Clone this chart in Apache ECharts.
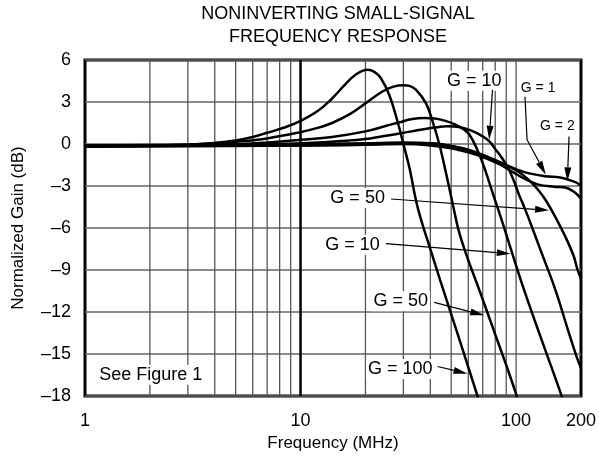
<!DOCTYPE html>
<html><head><meta charset="utf-8">
<script src="https://cdn.jsdelivr.net/npm/echarts@6/dist/echarts.min.js"></script>
<style>html,body{margin:0;padding:0;background:#fff}#c{width:599px;height:462px}</style>
</head><body><div id="c"></div>
<script>
const FONT = '"Liberation Sans", Arial, Helvetica, sans-serif';

// Axis ticks
const xLabels = [1, 10, 100, 200];
const vGrid = [2, 3, 4, 5, 6, 7, 8, 9, 10, 20, 30, 40, 50, 60, 70, 80, 90, 100];
const yMin = -18, yMax = 6, yStep = 3;

// Curves: [frequency MHz, normalized gain dB]
const curveG100 = [[1,-0.15],[2,-0.12],[3,-0.05],[4,0.08],[5,0.25],[6,0.5],[7,0.8],[8.5,1.2],[10,1.65],[12,2.35],[14,3.25],[16,4.2],[18,4.95],[20.5,5.3],[22,5.15],[23.6,4.7],[25.8,3.5],[28.3,1.5],[30,0],[32,-1.7],[34.9,-4.5],[39.6,-7.3],[48.9,-11.7],[58.5,-15.4],[66.2,-18],[70,-19.2]];
const curveG50 = [[1,-0.15],[2,-0.1],[3,-0.05],[4,0.05],[5,0.15],[7,0.4],[10,0.85],[12,1.15],[14,1.5],[17,2.15],[20,2.9],[24,3.75],[27,4.1],[30,4.2],[32,4.15],[34.2,3.9],[38.2,2.9],[41,1.6],[44,0],[47.5,-2.2],[51.5,-4.7],[54.4,-6.3],[60,-8.3],[67.4,-10.4],[80,-13.6],[90,-15.8],[99.7,-17.8],[104,-18.8]];
const curveG10 = [[1,-0.15],[3,-0.1],[5,-0.02],[7,0.1],[10,0.3],[14,0.5],[20,0.9],[25,1.3],[28.7,1.55],[33,1.78],[37.4,1.86],[42,1.82],[47,1.65],[52,1.4],[57,1.05],[60.6,0.7],[66,-0.4],[72,-1.9],[79,-3.8],[84.8,-5.2],[95,-7.6],[108.8,-10.4],[130,-13.8],[161,-17.8],[170,-19]];
const curveG10b = [[1,-0.15],[5,-0.1],[10,0.05],[15,0.2],[20,0.35],[28.7,0.75],[34,0.95],[39.6,1.12],[44,1.22],[48,1.26],[55,1.2],[62,0.95],[70,0.55],[75,0.2],[80,-0.35],[86,-1.0],[92.5,-1.8],[98,-2.7],[103,-3.6],[109,-4.5],[115,-5.4],[130,-7.6],[152,-10.4],[175,-13.4],[191,-15.2],[200,-16]];
const curveG50b = [[1,-0.15],[10,-0.1],[20,-0.05],[30,0.05],[40,0.05],[50,-0.15],[60,-0.45],[70,-0.8],[80,-1.15],[90,-1.5],[103,-2.0],[115,-2.6],[127,-3.3],[137,-4.0],[152,-5.2],[169,-6.6],[185,-8.0],[192,-8.9],[200,-9.6]];
const curveG1 = [[1,-0.1],[10,0],[20,0.05],[30,0.1],[40,0.05],[50,-0.15],[60,-0.4],[72,-0.85],[85,-1.35],[100,-1.8],[115,-2.1],[137,-2.3],[160,-2.4],[175,-2.55],[190,-2.75],[200,-3.0]];
const curveG2 = [[1,-0.2],[10,-0.1],[20,-0.05],[30,0],[40,-0.1],[50,-0.3],[60,-0.6],[72,-1.0],[85,-1.5],[94,-1.9],[110,-2.5],[127,-2.9],[150,-3.05],[169,-3.1],[185,-3.4],[200,-3.9]];

// Annotations (data coordinates)
const annText = ['G = 10','G = 1','G = 2','G = 50','G = 10','G = 50','G = 100','See Figure 1'];
const annPos = [[63.9,4.52],[126.5,4.02],[155.4,1.26],[18.4,-3.86],[17.4,-7.19],[29.2,-11.24],[29.0,-16.07],[2.02,-16.48]];
const annSize = [18,14,14,18,18,18,18,18];
const arrowPaths = [
  [[77.7,3.88],[75.0,0.31]],
  [[110,3.38],[112.4,0.31],[137.3,-2.19]],
  [[176,0.54],[172.9,-2.67]],
  [[26.3,-3.93],[142.2,-4.74]],
  [[24.9,-7.12],[94.5,-7.84]],
  [[41.7,-11.31],[71.1,-12.24]],
  [[43.2,-15.89],[59.5,-16.41]]
];

const curves = [curveG100, curveG50, curveG10, curveG10b, curveG50b, curveG1, curveG2];

const chart = echarts.init(document.getElementById('c'), null, {renderer: 'canvas'});

const series = [];
series.push({
  type: 'custom', z: 1, silent: true, clip: false,
  data: vGrid.map(v => [v, yMax]),
  encode: {x: 0, y: 1},
  renderItem(params, api) {
    const v = vGrid[params.dataIndex];
    const p1 = api.coord([v, yMax]), p2 = api.coord([v, yMin]);
    const major = v === 10;
    return {type: 'line', shape: {x1: p1[0], y1: p1[1], x2: p2[0], y2: p2[1]},
      style: {stroke: major ? '#000' : '#555', lineWidth: major ? 2.5 : 1.3}};
  }
});
curves.forEach(c => series.push({
  type: 'line', z: 2, data: c, showSymbol: false, symbol: 'none', smooth: 0.4,
  lineStyle: {color: '#000', width: 2.5}, silent: true, clip: true
}));
series.push({
  type: 'custom', z: 3, silent: true, clip: false,
  data: annPos, encode: {x: 0, y: 1},
  renderItem(params, api) {
    const i = params.dataIndex;
    const p = api.coord(annPos[i]);
    return {type: 'text', x: p[0], y: p[1],
      style: {text: annText[i], fill: '#000', font: annSize[i] + 'px ' + FONT,
        align: 'center', verticalAlign: 'middle', backgroundColor: '#fff', padding: [1, 2]}};
  }
});
series.push({
  type: 'custom', z: 4, silent: true, clip: false,
  data: arrowPaths.map(p => p[p.length - 1]), encode: {x: 0, y: 1},
  renderItem(params, api) {
    const pts = arrowPaths[params.dataIndex].map(p => api.coord(p));
    const n = pts.length, a = pts[n - 2], b = pts[n - 1];
    const dx = b[0] - a[0], dy = b[1] - a[1], L = Math.hypot(dx, dy);
    const ux = dx / L, uy = dy / L, hl = 14, hw = 3.5;
    const base = [b[0] - ux * hl, b[1] - uy * hl];
    const linePts = pts.slice(0, n - 1).concat([base]);
    return {type: 'group', children: [
      {type: 'polyline', shape: {points: linePts}, style: {stroke: '#000', lineWidth: 1.2, fill: null}},
      {type: 'polygon', shape: {points: [b, [base[0] - uy * hw, base[1] + ux * hw], [base[0] + uy * hw, base[1] - ux * hw]]}, style: {fill: '#000'}}
    ]};
  }
});

chart.setOption({
  animation: false,
  backgroundColor: '#fff',
  title: {
    text: 'NONINVERTING SMALL-SIGNAL\nFREQUENCY RESPONSE',
    left: 333, top: -2, textAlign: 'center',
    textStyle: {fontFamily: FONT, fontSize: 18, fontWeight: 'normal', color: '#000', lineHeight: 23}
  },
  grid: {left: 85, right: 18, top: 60, bottom: 66, show: true, borderColor: '#000', borderWidth: 3, backgroundColor: 'transparent'},
  xAxis: {
    type: 'log', logBase: 10, min: 1, max: 200,
    name: 'Frequency (MHz)', nameLocation: 'middle', nameGap: 38,
    nameTextStyle: {fontFamily: FONT, fontSize: 17, color: '#000'},
    axisLine: {show: false}, axisTick: {show: false}, splitLine: {show: false}, minorTick: {show: false},
    axisLabel: {customValues: xLabels, formatter: v => String(v), fontFamily: FONT, fontSize: 18, color: '#000', margin: 16}
  },
  yAxis: {
    type: 'value', min: yMin, max: yMax, interval: yStep,
    name: 'Normalized Gain (dB)', nameLocation: 'middle', nameGap: 58,
    nameTextStyle: {fontFamily: FONT, fontSize: 17, color: '#000'},
    axisLine: {show: false}, axisTick: {show: false},
    splitLine: {show: true, lineStyle: {color: '#666', width: 1.5}},
    axisLabel: {formatter: v => v < 0 ? '\u2013' + (-v) : String(v), fontFamily: FONT, fontSize: 18, color: '#000', margin: 14}
  },
  series
});
</script></body></html>
